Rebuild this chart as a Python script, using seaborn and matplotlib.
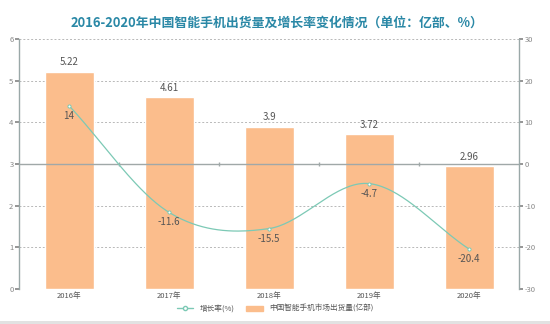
import numpy as np
import pandas as pd
import matplotlib
matplotlib.use("Agg")
import matplotlib.pyplot as plt
import seaborn as sns
from matplotlib.lines import Line2D
from matplotlib.patches import Patch, Rectangle

years = ["2016年", "2017年", "2018年", "2019年", "2020年"]
shipments = [5.22, 4.61, 3.9, 3.72, 2.96]
growth = [14, -11.6, -15.5, -4.7, -20.4]
left_ticks = [0, 1, 2, 3, 4, 5, 6]
right_ticks = [-30, -20, -10, 0, 10, 20, 30]

title = "2016-2020年中国智能手机出货量及增长率变化情况（单位：亿部、%）"
bar_name = "中国智能手机市场出货量(亿部)"
line_name = "增长率(%)"

sns.set_theme(style="white")
plt.rcParams["font.family"] = ["Noto Sans CJK SC", "DejaVu Sans"]

BAR = "#fbbd8c"
LINE = "#7cc9b5"
GRID = "#b8b8b8"
TXT = "#555555"

df = pd.DataFrame({"year": years, "shipments": shipments, "growth": growth})

fig = plt.figure(figsize=(5.5, 3.24), dpi=100)
ax = fig.add_axes([19 / 550, 1 - 289 / 324, (519 - 19) / 550, (289 - 39) / 324])

sns.barplot(data=df, x="year", y="shipments", color=BAR, width=0.49,
            saturation=1, ax=ax, zorder=2)
ax.set_ylim(0, 6)
ax.set_xlim(-0.5, len(years) - 0.5)
ax.set_yticks(left_ticks)
ax.set_yticklabels([str(t) for t in left_ticks])
ax.yaxis.grid(True, linestyle=(0, (2, 2)), color=GRID, linewidth=0.7)
ax.set_axisbelow(True)
ax.set_xlabel("")
ax.set_ylabel("")
ax.tick_params(axis="y", length=3, pad=1, labelsize=5.5, colors="#888888")
ax.tick_params(axis="x", length=0, pad=2, labelsize=5.5, colors=TXT)
for s in ["top", "right", "bottom"]:
    ax.spines[s].set_visible(False)
ax.spines["left"].set_color("#9aa8a8")
ax.spines["left"].set_linewidth(1.0)

for i, v in enumerate(shipments):
    ax.text(i, v + 0.1, f"{v:g}", ha="center", va="bottom", fontsize=7, color=TXT)

ax2 = ax.twinx()
ax2.set_ylim(-30, 30)
ax2.set_yticks(right_ticks)
ax2.set_yticklabels([str(t) for t in right_ticks])
ax2.tick_params(axis="y", length=3, pad=1, labelsize=5.5, colors="#888888")
for s in ["top", "left", "bottom"]:
    ax2.spines[s].set_visible(False)
ax2.spines["right"].set_color("#9aa8a8")
ax2.spines["right"].set_linewidth(1.0)
ax2.axhline(0, color="#a0a8a8", linewidth=1.0, zorder=1)
ax2.plot([0.5, 1.5, 2.5, 3.5], [0, 0, 0, 0], linestyle="none", marker="|",
         markersize=3, color="#a0a8a8")

# smooth Catmull-Rom curve through the growth points
xs = np.arange(len(growth), dtype=float)
ys = np.array(growth, dtype=float)
px = np.concatenate([[2 * xs[0] - xs[1]], xs, [2 * xs[-1] - xs[-2]]])
py = np.concatenate([[2 * ys[0] - ys[1]], ys, [2 * ys[-1] - ys[-2]]])
cx, cy = [], []
t = np.linspace(0, 1, 40)
for k in range(1, len(px) - 2):
    p0, p1, p2, p3 = [np.array([px[j], py[j]]) for j in range(k - 1, k + 3)]
    seg = 0.5 * ((2 * p1)[:, None] + (-p0 + p2)[:, None] * t
                 + (2 * p0 - 5 * p1 + 4 * p2 - p3)[:, None] * t ** 2
                 + (-p0 + 3 * p1 - 3 * p2 + p3)[:, None] * t ** 3)
    cx.extend(seg[0])
    cy.extend(seg[1])
ax2.plot(cx, cy, color=LINE, linewidth=0.9, zorder=3)
sns.scatterplot(x=xs, y=ys, ax=ax2, s=5, color="white", edgecolor=LINE,
                linewidth=0.7, zorder=4, legend=False)
for i, v in enumerate(growth):
    ax2.text(i, v - 1.2, f"{v:g}", ha="center", va="top", fontsize=7, color=TXT, zorder=5)

fig.text(277 / 550, 1 - 23 / 324, title, ha="center", va="center", fontsize=9.3,
         fontweight="bold", color="#2a88a6")

handles = [Line2D([0], [0], color=LINE, marker="o", markersize=3,
                  markerfacecolor="white", linewidth=1),
           Patch(color=BAR)]
fig.legend(handles, [line_name, bar_name], loc="center",
           bbox_to_anchor=(0.5, 1 - 309 / 324), ncol=2, frameon=False,
           fontsize=5.5, handlelength=2.2, columnspacing=1.5, labelcolor=TXT)

fig.add_artist(Rectangle((0, 0), 1, 3 / 324, transform=fig.transFigure,
                         color="#e2e2e2", linewidth=0))

fig.savefig("out.png", dpi=100, facecolor="white")
